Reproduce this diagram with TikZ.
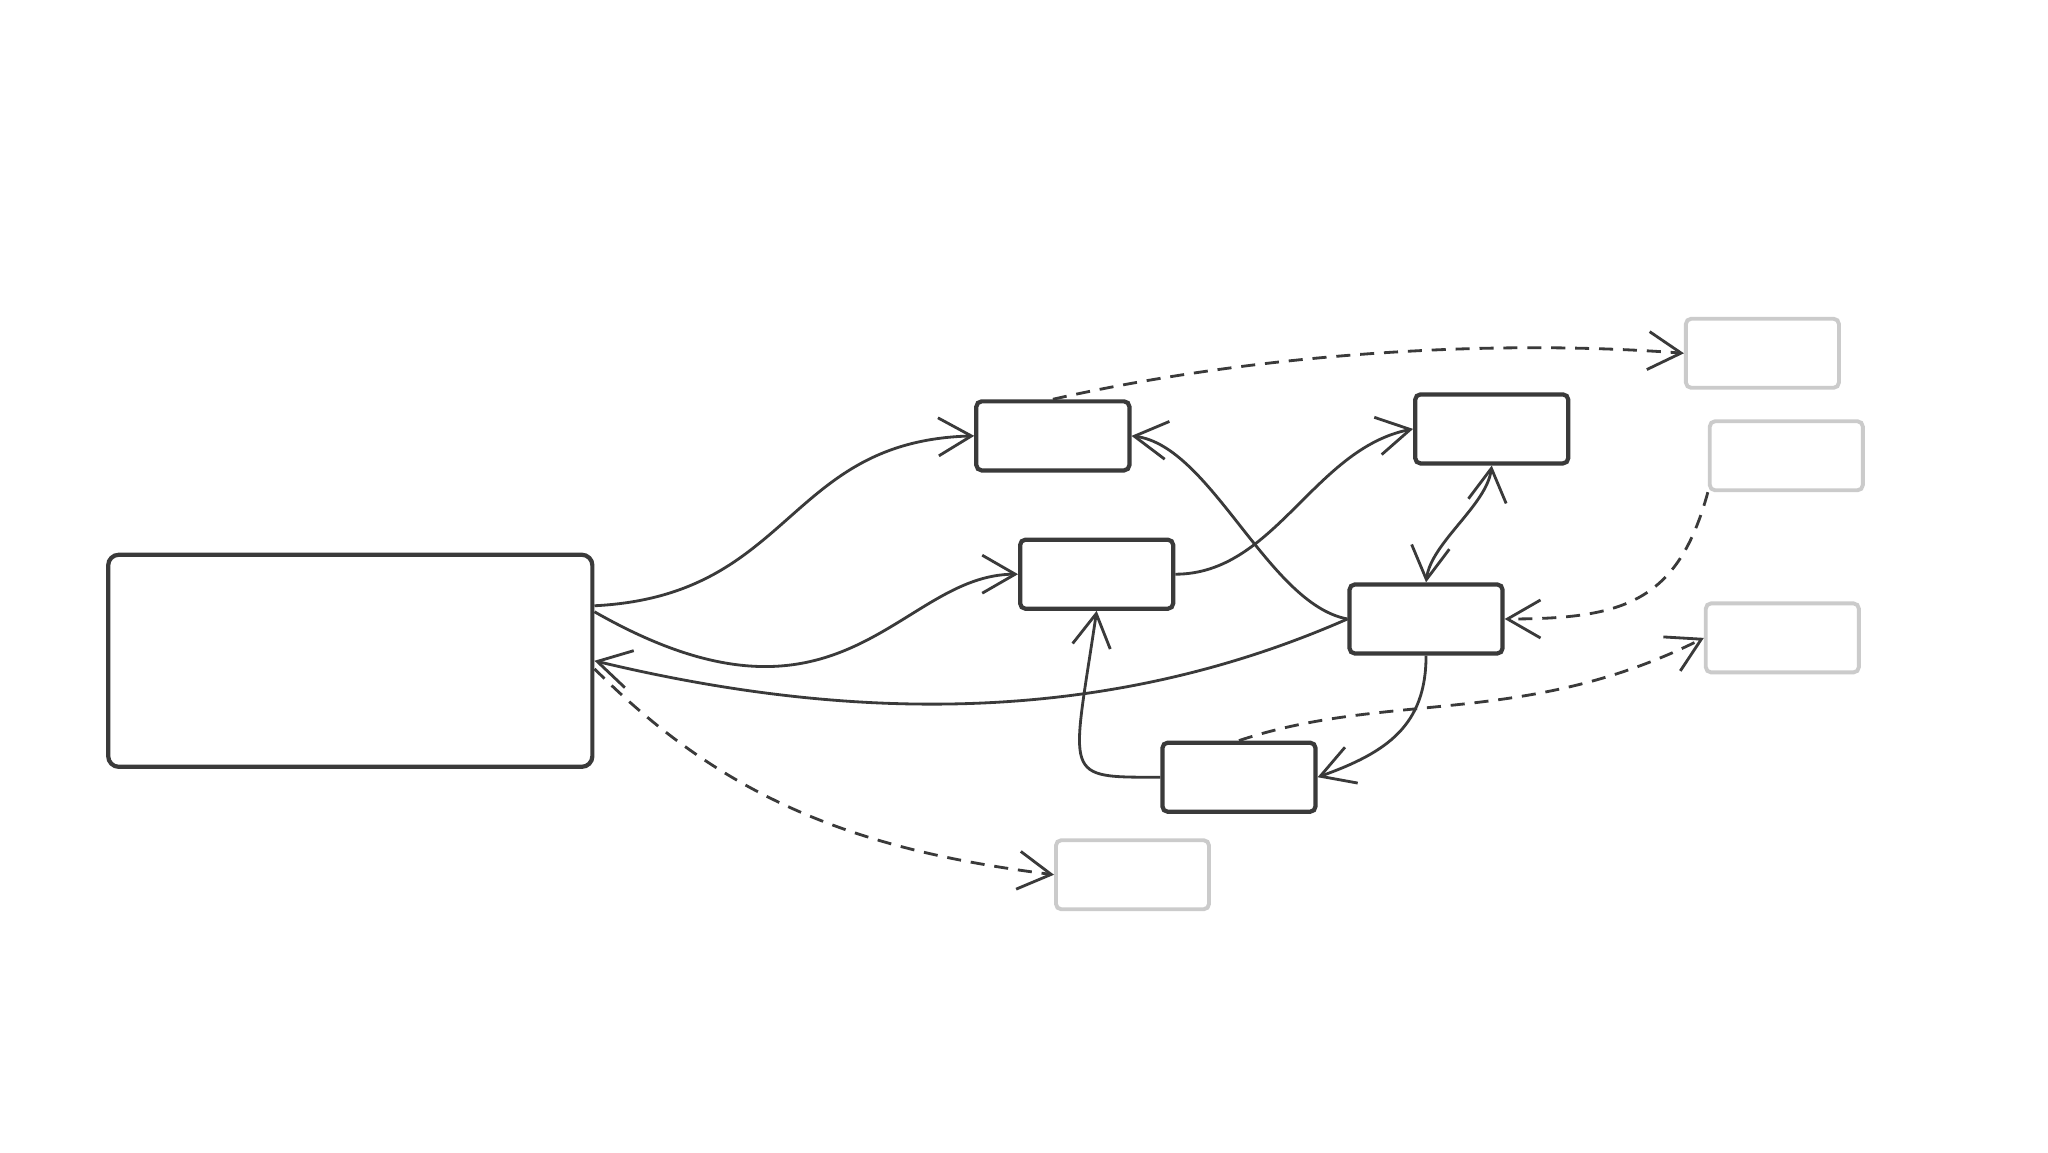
\documentclass[tikz,border=0pt]{standalone}
\usetikzlibrary{arrows.meta}
\definecolor{ink}{HTML}{3A3A3A}
\definecolor{fade}{HTML}{CBCBCB}

\tikzset{
  box/.style={draw=ink,line width=1.2pt,rounded corners=1.5pt,minimum width=1.53cm,minimum height=0.69cm,inner sep=0pt},
  ghost/.style={box,draw=fade,line width=1.1pt},
  link/.style={->,draw=ink,line width=0.8pt},
  hint/.style={link,dash pattern=on 4pt off 2.8pt},
}

\begin{document}
\begin{tikzpicture}[>={Straight Barb[length=0.33cm,width=0.38cm]},x=0.00995cm,y=0.00995cm]
  \path[fill=white,use as bounding box] (-1,-5) rectangle (2057,1153);
  % boxes
  \node[box,minimum width=4.84cm,minimum height=2.12cm,rounded corners=3pt] (big) at (351,489) {};
  \node[box] (n1) at (1057,715) {};
  \node[box] (n2) at (1101,576) {};
  \node[box] (n3) at (1498,722) {};
  \node[box] (n4) at (1432,531) {};
  \node[box] (n5) at (1244,372) {};
  \node[ghost] (g1) at (1770,798) {};
  \node[ghost] (g2) at (1794,695) {};
  \node[ghost] (g3) at (1790,512) {};
  \node[ghost] (g4) at (1137,274) {};
  % solid links
  \path[link] ([yshift=0.55cm]big.east) .. controls +(200,10) and +(-190,-5) .. (n1.west);
  \path[link] ([yshift=0.49cm]big.east) .. controls +(250,-143) and +(-120,0) .. (n2.west);
  \path[link] (n4.west) .. controls +(-250,-110) and +(250,-60) .. (big.east);
  \path[link] (n4.west) .. controls +(-80,15) and +(80,-10) .. (n1.east);
  \path[link] (n2.east) .. controls +(100,0) and +(-100,-20) .. (n3.west);
  \path[link,<->] (n3.south) .. controls +(-5,-40) and +(5,40) .. (n4.north);
  \path[link] (n4.south) .. controls +(0,-70) and +(70,25) .. (n5.east);
  \path[link] (n5.west) .. controls +(-100,0) and +(-25,-170) .. (n2.south);
  % dashed links
  \path[hint] (n1.north) .. controls +(200,45) and +(-200,15) .. (g1.west);
  \path[hint] (g2.south west) .. controls +(-30,-110) and +(120,0) .. (n4.east);
  \path[hint] (n5.north) .. controls +(150,50) and +(-180,-90) .. (g3.west);
  \path[hint] ([yshift=-0.08cm]big.east) .. controls +(130,-130) and +(-200,25) .. (g4.west);
\end{tikzpicture}
\end{document}
